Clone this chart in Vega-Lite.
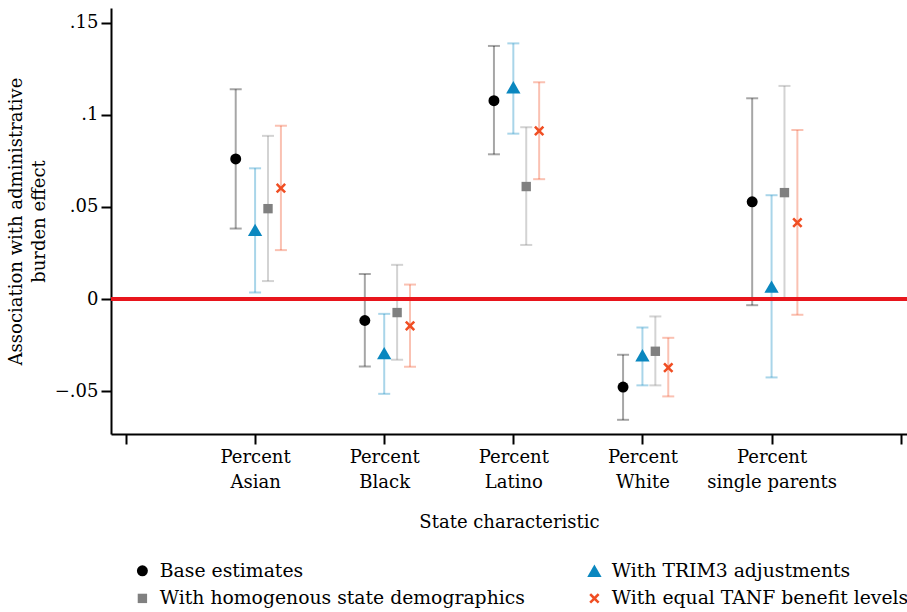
{
  "$schema": "https://vega.github.io/schema/vega-lite/v6.json",
  "width": 796,
  "height": 426,
  "autosize": "none",
  "padding": {"left": 111, "top": 8, "right": 0, "bottom": 178},
  "config": {
    "font": "DejaVu Serif",
    "view": {"stroke": null},
    "axis": {
      "domainColor": "#000000",
      "domainWidth": 2,
      "tickColor": "#000000",
      "tickWidth": 2,
      "tickSize": 10,
      "labelColor": "#000000",
      "labelFontSize": 18,
      "titleColor": "#000000",
      "titleFontSize": 18,
      "titleFontWeight": "normal",
      "grid": false
    },
    "legend": {
      "labelFontSize": 18.8,
      "labelColor": "#000000",
      "labelLimit": 600
    }
  },
  "data": {
    "values": [
      {"characteristic": "Percent Asian", "model": "Base estimates", "estimate": 0.0761, "lo": 0.0383, "hi": 0.1139},
      {"characteristic": "Percent Asian", "model": "With TRIM3 adjustments", "estimate": 0.0376, "lo": 0.0036, "hi": 0.0710},
      {"characteristic": "Percent Asian", "model": "With homogenous state demographics", "estimate": 0.0491, "lo": 0.0098, "hi": 0.0886},
      {"characteristic": "Percent Asian", "model": "With equal TANF benefit levels", "estimate": 0.0602, "lo": 0.0266, "hi": 0.0941},
      {"characteristic": "Percent Black", "model": "Base estimates", "estimate": -0.0116, "lo": -0.0365, "hi": 0.0136},
      {"characteristic": "Percent Black", "model": "With TRIM3 adjustments", "estimate": -0.0293, "lo": -0.0514, "hi": -0.0080},
      {"characteristic": "Percent Black", "model": "With homogenous state demographics", "estimate": -0.0073, "lo": -0.0329, "hi": 0.0186},
      {"characteristic": "Percent Black", "model": "With equal TANF benefit levels", "estimate": -0.0145, "lo": -0.0367, "hi": 0.0079},
      {"characteristic": "Percent Latino", "model": "Base estimates", "estimate": 0.1077, "lo": 0.0786, "hi": 0.1374},
      {"characteristic": "Percent Latino", "model": "With TRIM3 adjustments", "estimate": 0.1150, "lo": 0.0898, "hi": 0.1388},
      {"characteristic": "Percent Latino", "model": "With homogenous state demographics", "estimate": 0.0611, "lo": 0.0294, "hi": 0.0933},
      {"characteristic": "Percent Latino", "model": "With equal TANF benefit levels", "estimate": 0.0913, "lo": 0.0651, "hi": 0.1177},
      {"characteristic": "Percent White", "model": "Base estimates", "estimate": -0.0477, "lo": -0.0655, "hi": -0.0302},
      {"characteristic": "Percent White", "model": "With TRIM3 adjustments", "estimate": -0.0305, "lo": -0.0468, "hi": -0.0154},
      {"characteristic": "Percent White", "model": "With homogenous state demographics", "estimate": -0.0283, "lo": -0.0468, "hi": -0.0094},
      {"characteristic": "Percent White", "model": "With equal TANF benefit levels", "estimate": -0.0372, "lo": -0.0528, "hi": -0.0210},
      {"characteristic": "Percent single parents", "model": "Base estimates", "estimate": 0.0528, "lo": -0.0033, "hi": 0.1090},
      {"characteristic": "Percent single parents", "model": "With TRIM3 adjustments", "estimate": 0.0068, "lo": -0.0425, "hi": 0.0564},
      {"characteristic": "Percent single parents", "model": "With homogenous state demographics", "estimate": 0.0578, "lo": 0.0000, "hi": 0.1157},
      {"characteristic": "Percent single parents", "model": "With equal TANF benefit levels", "estimate": 0.0415, "lo": -0.0085, "hi": 0.0918}
    ]
  },
  "encoding": {
    "x": {
      "field": "characteristic",
      "type": "nominal",
      "sort": null,
      "scale": {
        "type": "point",
        "domain": ["L", "Percent Asian", "Percent Black", "Percent Latino", "Percent White", "Percent single parents", "R"],
        "padding": 0.0825,
        "align": 0.704
      },
      "axis": {
        "title": "State characteristic",
        "labelAngle": 0,
        "labelPadding": 4,
        "labelLineHeight": 25,
        "titlePadding": 22,
        "labelExpr": "datum.value == 'Percent single parents' ? ['Percent', 'single parents'] : ((datum.value == 'L' || datum.value == 'R') ? '' : split(datum.value, ' '))"
      }
    },
    "xOffset": {
      "field": "model",
      "type": "nominal",
      "scale": {
        "type": "point",
        "domain": ["Base estimates", "o1", "o2", "With TRIM3 adjustments", "o3", "With homogenous state demographics", "o4", "With equal TANF benefit levels"],
        "range": [-19.4, 25.8],
        "padding": 0
      }
    }
  },
  "layer": [
    {
      "mark": {"type": "rule", "strokeWidth": 2, "opacity": 0.35},
      "encoding": {
        "y": {"field": "lo", "type": "quantitative"},
        "y2": {"field": "hi"},
        "stroke": {
          "field": "model",
          "type": "nominal",
          "scale": {
            "domain": ["With equal TANF benefit levels", "With homogenous state demographics", "With TRIM3 adjustments", "Base estimates"],
            "range": ["#f04e23", "#808080", "#0a87bf", "#000000"]
          },
          "legend": null
        }
      }
    },
    {
      "mark": {"type": "tick", "orient": "horizontal", "size": 12, "thickness": 2, "opacity": 0.35},
      "encoding": {
        "y": {"field": "lo", "type": "quantitative"},
        "fill": {
          "field": "model",
          "type": "nominal",
          "scale": {
            "domain": ["With equal TANF benefit levels", "With homogenous state demographics", "With TRIM3 adjustments", "Base estimates"],
            "range": ["#f04e23", "#808080", "#0a87bf", "#000000"]
          },
          "legend": null
        }
      }
    },
    {
      "mark": {"type": "tick", "orient": "horizontal", "size": 12, "thickness": 2, "opacity": 0.35},
      "encoding": {
        "y": {"field": "hi", "type": "quantitative"},
        "fill": {"field": "model", "type": "nominal", "legend": null}
      }
    },
    {
      "mark": {"type": "rule", "color": "#e8161c", "strokeWidth": 2.5},
      "encoding": {"y": {"datum": 0}, "x": null, "xOffset": null}
    },
    {
      "mark": {"type": "point", "filled": true, "opacity": 1, "strokeWidth": 0},
      "encoding": {
        "y": {
          "field": "estimate",
          "type": "quantitative",
          "scale": {"domain": [-0.0732, 0.158], "nice": false, "zero": false},
          "axis": {
            "title": ["Association with administrative", "burden effect"],
            "values": [-0.05, 0, 0.05, 0.1, 0.15],
            "labelExpr": "replace(format(datum.value, '.2~f'), '0.', '.')",
            "labelPadding": 3,
            "titlePadding": 6,
            "titleLineHeight": 23
          }
        },
        "color": {
          "field": "model",
          "type": "nominal",
          "scale": {
            "domain": ["Base estimates", "With TRIM3 adjustments", "With homogenous state demographics", "With equal TANF benefit levels"],
            "range": ["#000000", "#0a87bf", "#808080", "#f04e23"]
          },
          "legend": {
            "title": null,
            "orient": "none",
            "direction": "horizontal",
            "legendX": 22,
            "legendY": 553,
            "columns": 2,
            "columnPadding": 60,
            "rowPadding": 8,
            "labelOffset": 8,
            "symbolStrokeWidth": 0
          }
        },
        "shape": {
          "field": "model",
          "type": "nominal",
          "scale": {
            "domain": ["Base estimates", "With TRIM3 adjustments", "With homogenous state demographics", "With equal TANF benefit levels"],
            "range": ["circle", "triangle-up", "square", "M-1,-0.65L-0.65,-1L0,-0.35L0.65,-1L1,-0.65L0.35,0L1,0.65L0.65,1L0,0.35L-0.65,1L-1,0.65L-0.35,0Z"]
          }
        },
        "size": {
          "field": "model",
          "type": "nominal",
          "scale": {
            "type": "ordinal",
            "domain": ["Base estimates", "With TRIM3 adjustments", "With homogenous state demographics", "With equal TANF benefit levels"],
            "range": [120, 205, 88, 105]
          }
        }
      }
    }
  ]
}
